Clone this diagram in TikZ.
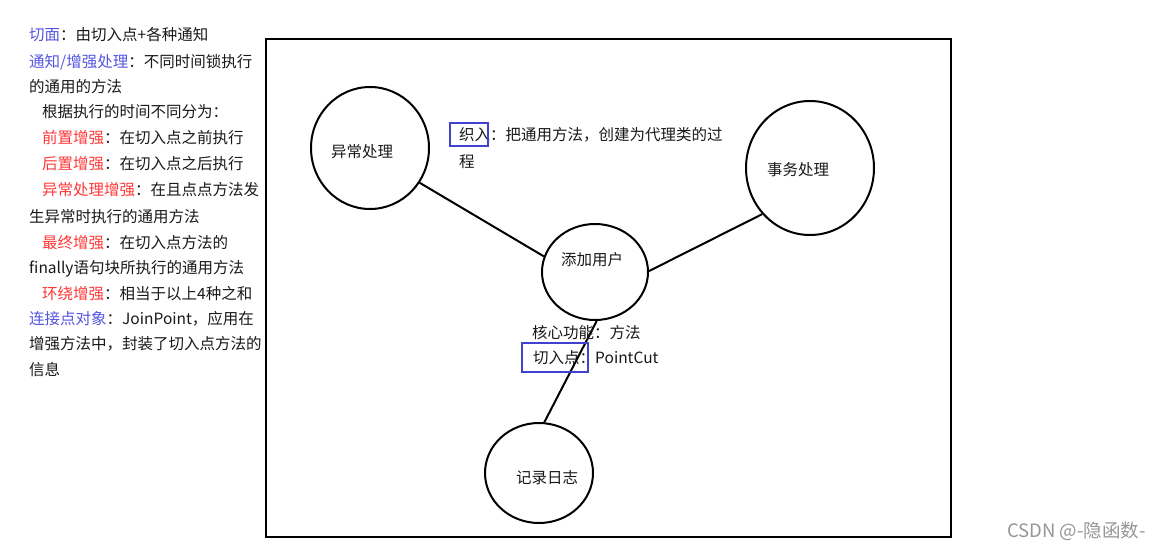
\documentclass[tikz,border=0pt]{standalone}
\usepackage{fontspec}
\setmainfont{Noto Sans CJK SC}
\usetikzlibrary{shapes.geometric}
\definecolor{tblue}{RGB}{85,85,225}
\definecolor{tred}{RGB}{255,55,55}
\definecolor{tblack}{RGB}{25,25,25}
\definecolor{boxblue}{RGB}{65,65,205}
\definecolor{wmgray}{RGB}{150,150,150}
\begin{document}
\begin{tikzpicture}[x=1pt,y=-1pt,
  every node/.style={font=\fontsize{15.5}{18}\selectfont, text=tblack, inner sep=0pt},
  txt/.style={anchor=west, text height=13pt, text depth=2pt},
  bubble/.style={draw, ellipse, line width=2pt, inner sep=0pt},
  link/.style={line width=2pt},
  hl/.style={draw=boxblue, line width=2pt}]
\useasboundingbox (0,0) rectangle (1165,551);
\fill[white] (0,0) rectangle (1165,551);

% left notes
\node[txt] (l1) at (29,35) {{\color{tblue}切面}：由切入点+各种通知};
\node[txt] (l2) at (29,62) {{\color{tblue}通知/增强处理}：不同时间锁执行};
\node[txt] (l3) at (29,87) {的通用的方法};
\node[txt] (l4) at (42,112) {根据执行的时间不同分为：};
\node[txt] (l5) at (42,138) {{\color{tred}前置增强}：在切入点之前执行};
\node[txt] (l6) at (42,164) {{\color{tred}后置增强}：在切入点之后执行};
\node[txt] (l7) at (42,190) {{\color{tred}异常处理增强}：在且点点方法发};
\node[txt] (l8) at (29,217) {生异常时执行的通用方法};
\node[txt] (l9) at (42,243) {{\color{tred}最终增强}：在切入点方法的};
\node[txt] (l10) at (29,268) {finally语句块所执行的通用方法};
\node[txt] (l11) at (42,294) {{\color{tred}环绕增强}：相当于以上4种之和};
\node[txt] (l12) at (29,319) {{\color{tblue}连接点对象}：JoinPoint，应用在};
\node[txt] (l13) at (29,344) {增强方法中，封装了切入点方法的};
\node[txt] (l14) at (29,370) {信息};

% frame
\draw[line width=2.5pt] (266,39) rectangle (951,537);

% bubbles
\node[bubble, minimum width=118pt, minimum height=122pt] (yc) at (370,148) {};
\node[bubble, minimum width=106pt, minimum height=96pt] (add) at (595,272) {};
\node[bubble, minimum width=128pt, minimum height=134pt] (sw) at (810,168) {};
\node[bubble, minimum width=108pt, minimum height=100pt] (jl) at (539,473) {};

\node (yct) at (362,152) {异常处理};
\node (addt) at (592,260) {添加用户};
\node (swt) at (798,170) {事务处理};
\node (jlt) at (547,478) {记录日志};

% connectors
\draw[link] (yc.-35) -- (add.163);
\draw[link] (sw.224) -- (add.1);
\draw[link] (add.-88) -- (jl.84);

% annotations
\node[txt] (zr1) at (459,135) {织入：把通用方法，创建为代理类的过};
\node[txt] (zr2) at (459,162) {程};
\draw[hl] (450,123) rectangle (488,146);

\node[txt] (hx) at (532,333) {核心功能：方法};
\node[txt] (qr) at (533,358) {切入点：PointCut};
\draw[hl] (522,343) rectangle (588,372);

% watermark
\node[txt, text=wmgray, font=\fontsize{18.5}{20}\selectfont] (wm) at (1007,532) {CSDN @-隐函数-};
\end{tikzpicture}
\end{document}
